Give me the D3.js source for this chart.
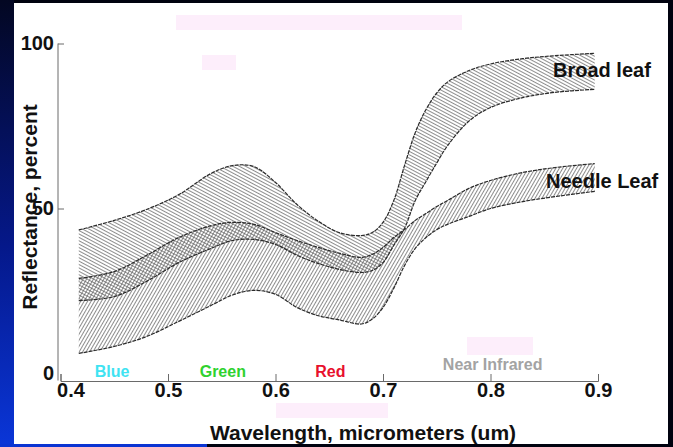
<!DOCTYPE html>
<html>
<head>
<meta charset="utf-8">
<script src="https://cdn.jsdelivr.net/npm/d3@7"></script>
<style>
  body { margin: 0; background: #00020f; }
  svg { display: block; font-family: "Liberation Sans", Arial, sans-serif; font-weight: bold; }
</style>
</head>
<body>
<div id="chart"></div>
<script>
// Wavelength samples (micrometers) shared by all boundary curves
const wavelengths = [0.417, 0.45, 0.48, 0.51, 0.54, 0.56, 0.58, 0.60, 0.62, 0.64, 0.66, 0.68, 0.69,
                     0.70, 0.71, 0.72, 0.73, 0.74, 0.75, 0.76, 0.78, 0.80, 0.83, 0.86, 0.897];

// Reflectance (percent) of band edges
const broadUpper  = [43.5, 46.4, 49.7, 54.2, 60.6, 63.0, 62.7, 57.9, 51.2, 46.1, 42.6, 41.8, 42.7,
                     45.8, 52.4, 63.0, 73.0, 80.0, 85.0, 88.3, 91.8, 93.8, 95.4, 96.3, 97.0];
const broadLower  = [22.1, 23.3, 27.9, 33.6, 37.9, 40.3, 40.6, 39.1, 35.8, 33.3, 31.5, 30.6, 31.2,
                     33.6, 38.8, 44.0, 52.4, 58.2, 63.8, 69.0, 76.5, 80.6, 83.6, 85.2, 86.1];
const needleUpper = [28.8, 30.9, 35.8, 41.2, 44.8, 45.8, 45.2, 42.7, 40.3, 38.2, 36.4, 35.2, 36.1,
                     38.2, 41.2, 43.6, 46.4, 48.5, 50.6, 52.4, 56.1, 58.5, 60.9, 62.4, 63.6];
const needleLower = [6.1, 8.2, 11.2, 15.8, 20.6, 23.8, 25.2, 24.0, 20.0, 17.5, 16.2, 15.0, 16.5,
                     20.0, 25.8, 32.7, 37.9, 41.2, 43.6, 45.2, 47.6, 50.0, 52.1, 53.6, 55.2];

// Tick values
const xTicks = [0.4, 0.5, 0.6, 0.7, 0.8, 0.9];
const yTicks = [0, 50, 100];

// Spectral region labels
const regions = [
    { name: "Blue", w: 0.448, color: "#3fe3f2" },
    { name: "Green", w: 0.551, color: "#2fd22f" },
    { name: "Red", w: 0.651, color: "#e8102c" },
    { name: "Near Infrared", w: 0.802, color: "#a3a3a3" }
];

const W = 673, H = 447;

const svg = d3.select("#chart").append("svg")
    .attr("width", W)
    .attr("height", H);

// slide background
const defs = svg.append("defs");
const grad = defs.append("linearGradient")
    .attr("id", "leftGrad")
    .attr("x1", 0).attr("y1", 0).attr("x2", 0).attr("y2", 1);
grad.append("stop").attr("offset", "0%").attr("stop-color", "#030722");
grad.append("stop").attr("offset", "55%").attr("stop-color", "#05188a");
grad.append("stop").attr("offset", "100%").attr("stop-color", "#0a36d8");

svg.append("rect").attr("width", W).attr("height", H).attr("fill", "#00020f");
svg.append("rect").attr("width", 14).attr("height", H).attr("fill", "url(#leftGrad)");
svg.append("rect").attr("x", 0).attr("y", 444).attr("width", 207).attr("height", 3).attr("fill", "#0a34d2");
svg.append("rect").attr("x", 14).attr("y", 3).attr("width", 654).attr("height", 441).attr("fill", "#fff");

// faint leftover boxes on the slide
[[176, 15, 286, 15], [202, 55, 34, 15], [276, 403, 112, 15], [467, 337, 66, 18]].forEach(b => {
    svg.append("rect").attr("x", b[0]).attr("y", b[1]).attr("width", b[2]).attr("height", b[3])
       .attr("fill", "#fdeefb");
});

// hatch patterns
const hatch = (id, angle) => {
    const p = defs.append("pattern")
        .attr("id", id)
        .attr("width", 3).attr("height", 3)
        .attr("patternUnits", "userSpaceOnUse")
        .attr("patternTransform", "rotate(" + angle + ")");
    p.append("line")
        .attr("x1", 0).attr("y1", 1.5).attr("x2", 3).attr("y2", 1.5)
        .attr("stroke", "#5c5c5c")
        .attr("stroke-width", 0.7);
};
hatch("hatchBroad", 28);
hatch("hatchNeedle", -60);

// scales
const x = d3.scaleLinear().domain([0.4, 0.9]).range([60.5, 598]);
const y = d3.scaleLinear().domain([0, 100]).range([373.5, 43.5]);
const axisY = 381;
const axisX = 58;

const rows = wavelengths.map((w, i) => ({
    w: w,
    bu: broadUpper[i], bl: broadLower[i],
    nu: needleUpper[i], nl: needleLower[i]
}));

const curve = d3.curveCatmullRom.alpha(0.5);

const area = (top, bottom) => d3.area()
    .x(d => x(d.w))
    .y0(d => y(d[bottom]))
    .y1(d => y(d[top]))
    .curve(curve);

const line = key => d3.line()
    .x(d => x(d.w))
    .y(d => y(d[key]))
    .curve(curve);

// bands: needle first, broad on top so the overlap is cross hatched
svg.append("path").attr("d", area("nu", "nl")(rows)).attr("fill", "url(#hatchNeedle)");
svg.append("path").attr("d", area("bu", "bl")(rows)).attr("fill", "url(#hatchBroad)");

["bu", "bl", "nu", "nl"].forEach(k => {
    svg.append("path")
       .attr("d", line(k)(rows))
       .attr("fill", "none")
       .attr("stroke", "#2a2a2a")
       .attr("stroke-width", 1.2)
       .attr("stroke-dasharray", "4,1");
});

// x axis, ticks pointing up
const xAxis = d3.axisBottom(x)
    .tickValues(xTicks)
    .tickSizeInner(-7)
    .tickSizeOuter(-7)
    .tickPadding(2)
    .tickFormat(d3.format(".1f"));

const gx = svg.append("g")
    .attr("transform", "translate(0," + axisY + ")")
    .call(xAxis);
gx.selectAll("path, line").attr("stroke", "#6a6a6a");
gx.selectAll("text")
    .attr("fill", "#111")
    .style("font-size", "20px")
    .attr("dx", d => d === 0.4 ? 10 : 0);

// y axis, ticks pointing right
const yAxis = d3.axisLeft(y)
    .tickValues(yTicks)
    .tickSizeInner(-6)
    .tickSizeOuter(0)
    .tickPadding(4);

const gy = svg.append("g")
    .attr("transform", "translate(" + axisX + ",0)")
    .call(yAxis);
gy.select(".domain").attr("d", "M0," + (axisY - 0.5) + "V" + y(100));
gy.selectAll("path, line").attr("stroke", "#6a6a6a");
gy.selectAll(".tick").filter(d => d === 0).select("line").remove();
gy.selectAll("text")
    .attr("fill", "#111")
    .style("font-size", "20px");

// spectral region labels
svg.selectAll(".region")
    .data(regions)
    .enter()
    .append("text")
    .attr("class", "region")
    .attr("x", d => x(d.w))
    .attr("y", d => d.name === "Near Infrared" ? 370 : 377)
    .attr("text-anchor", "middle")
    .attr("fill", d => d.color)
    .style("font-size", "16px")
    .text(d => d.name);

// band names
svg.append("text").attr("x", 553).attr("y", 77)
    .style("font-size", "20px").attr("fill", "#111").text("Broad leaf");
svg.append("text").attr("x", 546).attr("y", 188)
    .style("font-size", "20px").attr("fill", "#111").text("Needle Leaf");

// axis titles
svg.append("text")
    .attr("x", 363).attr("y", 440)
    .attr("text-anchor", "middle")
    .style("font-size", "21px")
    .attr("fill", "#111")
    .text("Wavelength, micrometers (um)");

svg.append("text")
    .attr("transform", "translate(37,207) rotate(-90)")
    .attr("text-anchor", "middle")
    .style("font-size", "21px")
    .attr("fill", "#111")
    .text("Reflectance, percent");
</script>
</body>
</html>
